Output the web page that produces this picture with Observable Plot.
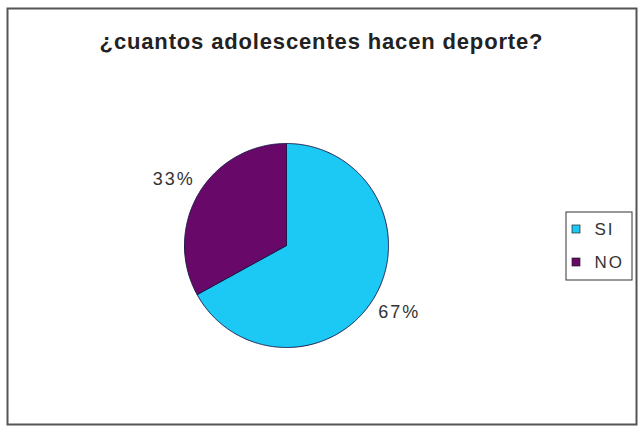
<!DOCTYPE html>
<html>
<head>
<meta charset="utf-8">
<script src="https://cdn.jsdelivr.net/npm/d3@7"></script>
<script src="https://cdn.jsdelivr.net/npm/@observablehq/plot@0.6"></script>
<style>
  html, body { margin: 0; padding: 0; background: #fff; }
</style>
</head>
<body>
<div id="chart"></div>
<script>
// ---- data ----
const title = "¿cuantos adolescentes hacen deporte?";
const categories = ["SI", "NO"];
const values = [67, 33];
const labels = ["67%", "33%"];
const colors = ["#1CC8F4", "#680868"];

// ---- layout ----
const W = 640, H = 426;
const cx = 286, cy = 245, R = 102, labelR = 131;

const slices = d3.pie().sort(null).value(d => d.value)(
  categories.map((c, i) => ({ category: c, value: values[i], label: labels[i] }))
);

// polygon points for each slice
const piePts = [];
for (const s of slices) {
  piePts.push({ category: s.data.category, x: cx, y: cy });
  const n = Math.max(8, Math.ceil((s.endAngle - s.startAngle) / 0.01));
  for (let k = 0; k <= n; k++) {
    const a = s.startAngle + (s.endAngle - s.startAngle) * k / n;
    piePts.push({ category: s.data.category, x: cx + R * Math.sin(a), y: cy - R * Math.cos(a) });
  }
  piePts.push({ category: s.data.category, x: cx, y: cy });
}
const labelPts = slices.map(s => {
  const a = (s.startAngle + s.endAngle) / 2;
  return { text: s.data.label, x: cx + labelR * Math.sin(a), y: cy - labelR * Math.cos(a) };
});

// legend
const legX = 566, legY = 212, legW = 66, legH = 68;
const legend = categories.map((c, i) => ({ category: c, x: legX + 10, y: legY + 17 + i * 33 }));

const chart = Plot.plot({
  width: W, height: H,
  marginLeft: 7, marginTop: 8, marginRight: 4, marginBottom: 2,
  x: { type: "identity", axis: null },
  y: { type: "identity", axis: null },
  color: { domain: categories, range: colors },
  style: { fontFamily: "Liberation Sans, Arial, sans-serif", background: "#fff" },
  marks: [
    Plot.frame({ stroke: "#555", strokeWidth: 2 }),
    Plot.text([title], { x: () => 321, y: () => 41, text: d => d, fontSize: 22, fontWeight: "bold", fill: "#222", style: "letter-spacing:0.85px" }),
    Plot.line(piePts, { x: "x", y: "y", z: "category", fill: "category", stroke: "#1a1a4a", strokeWidth: 1 }),
    Plot.text(labelPts, { x: "x", y: "y", text: "text", fontSize: 18, fill: "#333" }),
    Plot.rect([0], { x1: () => legX, x2: () => legX + legW, y1: () => legY, y2: () => legY + legH, fill: "none", stroke: "#333", strokeWidth: 1 }),
    Plot.rect(legend, { x1: d => d.x - 4, x2: d => d.x + 4, y1: d => d.y - 4, y2: d => d.y + 4, fill: "category", stroke: "#222", strokeWidth: 0.7 }),
    Plot.text(legend, { x: d => d.x + 18, y: "y", text: "category", textAnchor: "start", fontSize: 17, fill: "#333" })
  ]
});
// widen glyph spacing of small labels like the reference
chart.querySelectorAll("text").forEach(t => {
  if (!t.textContent.startsWith("¿")) t.style.letterSpacing = "2px";
  else t.style.letterSpacing = "0.85px";
});
document.getElementById("chart").appendChild(chart);
</script>
</body>
</html>
